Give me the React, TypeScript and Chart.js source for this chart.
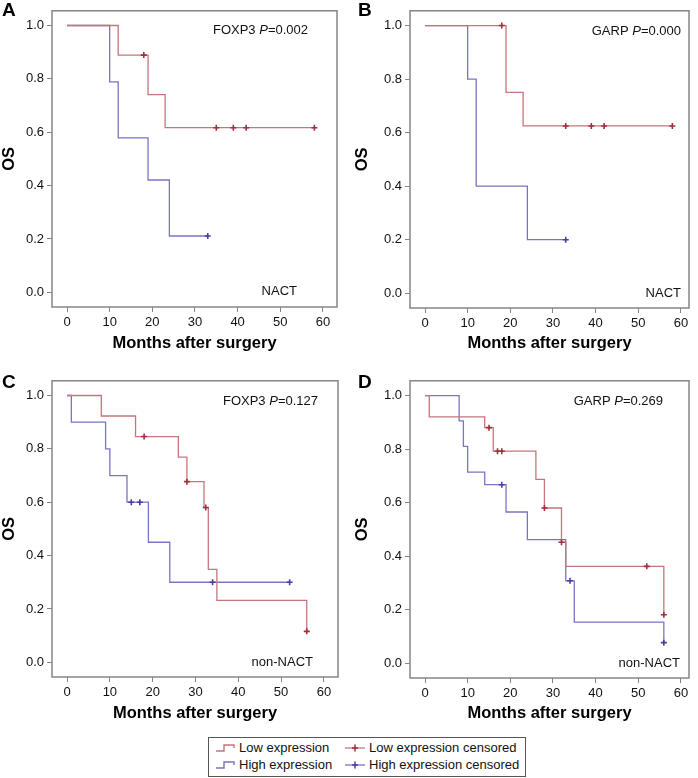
import React, { useEffect, useRef } from "react";
import { Chart, registerables } from "chart.js";

Chart.register(...registerables);

const FONT = "'Liberation Sans', Arial, Helvetica, sans-serif";

// tick labels
const xTicks = [0, 10, 20, 30, 40, 50, 60];
const yTicks = [0, 0.2, 0.4, 0.6, 0.8, 1.0];

// Panel A (NACT, FOXP3)
const aLowT = [0, 12, 19, 23, 58];
const aLowS = [1, 0.889, 0.741, 0.617, 0.617];
const aLowCensT = [18, 35, 39, 42, 58];
const aLowCensS = [0.889, 0.617, 0.617, 0.617, 0.617];
const aHighT = [0, 10, 12, 19, 24, 33];
const aHighS = [1, 0.789, 0.579, 0.421, 0.211, 0.211];
const aHighCensT = [33];
const aHighCensS = [0.211];

// Panel B (NACT, GARP)
const bLowT = [0, 19, 23, 58];
const bLowS = [1, 0.75, 0.625, 0.625];
const bLowCensT = [18, 33, 39, 42, 58];
const bLowCensS = [1, 0.625, 0.625, 0.625, 0.625];
const bHighT = [0, 10, 12, 24, 33];
const bHighS = [1, 0.8, 0.4, 0.2, 0.2];
const bHighCensT = [33];
const bHighCensS = [0.2];

// Panel C (non-NACT, FOXP3)
const cLowT = [0, 8, 16, 26, 28, 32, 33, 35, 56];
const cLowS = [1, 0.923, 0.846, 0.769, 0.677, 0.58, 0.348, 0.232, 0.116];
const cLowCensT = [18, 28, 32.4, 56];
const cLowCensS = [0.846, 0.677, 0.58, 0.116];
const cHighT = [0, 1, 9, 10, 14, 19, 24, 52];
const cHighS = [1, 0.9, 0.8, 0.7, 0.6, 0.45, 0.3, 0.3];
const cHighCensT = [15, 17, 34, 52];
const cHighCensS = [0.6, 0.6, 0.3, 0.3];

// Panel D (non-NACT, GARP)
const dLowT = [0, 1, 14, 16, 26, 28, 32, 33, 56];
const dLowS = [1, 0.92, 0.88, 0.792, 0.687, 0.58, 0.452, 0.362, 0.181];
const dLowCensT = [15, 17, 18, 28, 32, 52, 56];
const dLowCensS = [0.88, 0.792, 0.792, 0.58, 0.452, 0.362, 0.181];
const dHighT = [0, 8, 9, 10, 14, 19, 24, 33, 35, 56];
const dHighS = [1, 0.905, 0.81, 0.714, 0.667, 0.565, 0.462, 0.308, 0.154, 0.077];
const dHighCensT = [18, 34, 56];
const dHighCensS = [0.667, 0.308, 0.077];

const LOW_LINE = "#c4767b";
const HIGH_LINE = "#7a74c6";
const LOW_MARK = "#a52d3e";
const HIGH_MARK = "#4a3ca4";
const FRAME = "#858585";

type Panel = {
  letter: string;
  gene: string;
  pval: string;
  group: string;
  lowT: number[]; lowS: number[]; lowCT: number[]; lowCS: number[];
  highT: number[]; highS: number[]; highCT: number[]; highCS: number[];
  left: number; top: number; w: number; h: number;
  yw: number; xh: number; padR: number; padT: number;
  xMin: number; xMax: number;
  yTitlePad: number;
  geneDx: number; geneDy: number; groupDx: number; groupDy: number;
  letterX: number; letterY: number;
};

const panels: Panel[] = [
  {
    letter: "A", gene: "FOXP3 ", pval: "=0.002", group: "NACT",
    lowT: aLowT, lowS: aLowS, lowCT: aLowCensT, lowCS: aLowCensS,
    highT: aHighT, highS: aHighS, highCT: aHighCensT, highCS: aHighCensS,
    left: 0, top: 0, w: 345, h: 355, yw: 52, xh: 48, padR: 8, padT: 5,
    xMin: -3.52, xMax: 63.3, yTitlePad: 0,
    geneDx: 29, geneDy: 20, groupDx: 40, groupDy: 16, letterX: 2, letterY: 0,
  },
  {
    letter: "B", gene: "GARP ", pval: "=0.000", group: "NACT",
    lowT: bLowT, lowS: bLowS, lowCT: bLowCensT, lowCS: bLowCensS,
    highT: bHighT, highS: bHighS, highCT: bHighCensT, highCS: bHighCensS,
    left: 348, top: 0, w: 350, h: 355, yw: 62, xh: 47, padR: 9, padT: 5,
    xMin: -3.52, xMax: 61.9, yTitlePad: 5,
    geneDx: 8, geneDy: 21, groupDx: 8, groupDy: 15, letterX: 358, letterY: 0,
  },
  {
    letter: "C", gene: "FOXP3 ", pval: "=0.127", group: "non-NACT",
    lowT: cLowT, lowS: cLowS, lowCT: cLowCensT, lowCS: cLowCensS,
    highT: cHighT, highS: cHighS, highCT: cHighCensT, highCS: cHighCensS,
    left: 0, top: 370, w: 345, h: 355, yw: 52, xh: 48, padR: 7, padT: 5,
    xMin: -3.52, xMax: 63.3, yTitlePad: 0,
    geneDx: 20, geneDy: 21, groupDx: 25, groupDy: 15, letterX: 2, letterY: 372,
  },
  {
    letter: "D", gene: "GARP ", pval: "=0.269", group: "non-NACT",
    lowT: dLowT, lowS: dLowS, lowCT: dLowCensT, lowCS: dLowCensS,
    highT: dHighT, highS: dHighS, highCT: dHighCensT, highCS: dHighCensS,
    left: 348, top: 370, w: 350, h: 355, yw: 62, xh: 47, padR: 9, padT: 5,
    xMin: -3.52, xMax: 61.9, yTitlePad: 5,
    geneDx: 26, geneDy: 21, groupDx: 9, groupDy: 15, letterX: 358, letterY: 372,
  },
];

const pts = (t: number[], s: number[]) => t.map((x, i) => ({ x, y: s[i] }));

function KMPanel({ p }: { p: Panel }) {
  const ref = useRef<HTMLCanvasElement | null>(null);
  useEffect(() => {
    if (!ref.current) return;
    const framePlugin = {
      id: "frame",
      afterDraw(chart: any) {
        const { ctx, chartArea } = chart;
        const { left, right, top, bottom } = chartArea;
        ctx.save();
        ctx.strokeStyle = FRAME;
        ctx.lineWidth = 1.5;
        ctx.strokeRect(left, top, right - left, bottom - top);
        // annotations
        ctx.fillStyle = "#111";
        ctx.textBaseline = "middle";
        const reg = `13px ${FONT}`;
        const ita = `italic 13px ${FONT}`;
        ctx.font = reg;
        const w1 = ctx.measureText(p.gene).width;
        const w3 = ctx.measureText(p.pval).width;
        ctx.font = ita;
        const w2 = ctx.measureText("P").width;
        const xEnd = right - p.geneDx;
        const y1 = top + p.geneDy;
        let x = xEnd - (w1 + w2 + w3);
        ctx.textAlign = "left";
        ctx.font = reg;
        ctx.fillText(p.gene, x, y1);
        x += w1;
        ctx.font = ita;
        ctx.fillText("P", x, y1);
        x += w2;
        ctx.font = reg;
        ctx.fillText(p.pval, x, y1);
        ctx.textAlign = "right";
        ctx.fillText(p.group, right - p.groupDx, bottom - p.groupDy);
        ctx.restore();
      },
    };
    const chart = new Chart(ref.current, {
      type: "line",
      data: {
        datasets: [
          {
            data: pts(p.lowCT, p.lowCS), showLine: false, pointStyle: "cross",
            pointRadius: 3, pointBorderColor: LOW_MARK, pointBackgroundColor: LOW_MARK,
            pointBorderWidth: 1.6, borderColor: LOW_MARK,
          },
          {
            data: pts(p.highCT, p.highCS), showLine: false, pointStyle: "cross",
            pointRadius: 3, pointBorderColor: HIGH_MARK, pointBackgroundColor: HIGH_MARK,
            pointBorderWidth: 1.6, borderColor: HIGH_MARK,
          },
          {
            data: pts(p.lowT, p.lowS), stepped: true, borderColor: LOW_LINE,
            borderWidth: 1.3, pointRadius: 0, fill: false,
          },
          {
            data: pts(p.highT, p.highS), stepped: true, borderColor: HIGH_LINE,
            borderWidth: 1.3, pointRadius: 0, fill: false,
          },
        ],
      } as any,
      options: {
        animation: false,
        responsive: false,
        maintainAspectRatio: false,
        layout: { padding: { top: p.padT, right: p.padR, left: 0, bottom: 0 } },
        plugins: { legend: { display: false }, tooltip: { enabled: false } },
        scales: {
          x: {
            type: "linear",
            min: p.xMin,
            max: p.xMax,
            afterBuildTicks: (s: any) => { s.ticks = xTicks.map((v) => ({ value: v })); },
            afterFit: (s: any) => { s.height = p.xh; },
            grid: { display: true, drawOnChartArea: false, drawTicks: true, tickLength: 5, color: FRAME, lineWidth: 1 },
            border: { display: false },
            ticks: {
              padding: 3, autoSkip: false, maxRotation: 0, color: "#111",
              font: { size: 13, family: FONT },
              callback: (v: any) => String(v),
            },
            title: {
              display: true, text: "Months after surgery", color: "#000",
              font: { size: 16.5, weight: "bold", family: FONT },
              padding: { top: 0, bottom: 2 },
            },
          },
          y: {
            type: "linear",
            min: -0.055,
            max: 1.055,
            afterBuildTicks: (s: any) => { s.ticks = yTicks.map((v) => ({ value: v })); },
            afterFit: (s: any) => { s.width = p.yw; },
            grid: { display: true, drawOnChartArea: false, drawTicks: true, tickLength: 5, color: FRAME, lineWidth: 1 },
            border: { display: false },
            ticks: {
              padding: 3, autoSkip: false, color: "#111",
              font: { size: 13, family: FONT },
              callback: (v: any) => Number(v).toFixed(1),
            },
            title: {
              display: true, text: "OS", color: "#000",
              font: { size: 16.5, weight: "bold", family: FONT },
              padding: { top: p.yTitlePad, bottom: 0 },
            },
          },
        },
      } as any,
      plugins: [framePlugin],
    });
    return () => chart.destroy();
  }, [p]);
  return (
    <>
      <canvas
        ref={ref}
        width={p.w}
        height={p.h}
        style={{ position: "absolute", left: p.left, top: p.top, width: p.w, height: p.h }}
      />
      <div
        style={{
          position: "absolute", left: p.letterX, top: p.letterY,
          font: `bold 19px ${FONT}`, color: "#000", lineHeight: "20px",
        }}
      >
        {p.letter}
      </div>
    </>
  );
}

function StepIcon({ color }: { color: string }) {
  return (
    <svg width="20" height="10" style={{ position: "absolute", left: 0, top: 0 }}>
      <path d="M1 8 H9 V2 H19 V5" stroke={color} strokeWidth="1.4" fill="none" />
    </svg>
  );
}

function CrossIcon({ line, mark }: { line: string; mark: string }) {
  return (
    <svg width="22" height="10" style={{ position: "absolute", left: 0, top: 0 }}>
      <path d="M1 5 H21" stroke={line} strokeWidth="1.3" fill="none" />
      <path d="M11 1.5 V8.5 M8 5 H14" stroke={mark} strokeWidth="1.5" fill="none" />
    </svg>
  );
}

const legendRows = [
  { label: "Low expression", cens: "Low expression censored", line: LOW_LINE, mark: LOW_MARK },
  { label: "High expression", cens: "High expression censored", line: HIGH_LINE, mark: HIGH_MARK },
];

function Legend() {
  return (
    <div
      style={{
        position: "absolute", left: 208, top: 737, width: 318, height: 40,
        border: "1px solid #555", boxSizing: "border-box", background: "#fff",
        font: `13px ${FONT}`, color: "#111",
      }}
    >
      {legendRows.map((r, i) => (
        <React.Fragment key={i}>
          <div style={{ position: "absolute", left: 6, top: 5 + i * 17, width: 20, height: 10 }}>
            <StepIcon color={r.line} />
          </div>
          <div style={{ position: "absolute", left: 30, top: 2 + i * 17, lineHeight: "15px", whiteSpace: "nowrap" }}>
            {r.label}
          </div>
          <div style={{ position: "absolute", left: 135, top: 5 + i * 17, width: 22, height: 10 }}>
            <CrossIcon line={r.line} mark={r.mark} />
          </div>
          <div style={{ position: "absolute", left: 160, top: 2 + i * 17, lineHeight: "15px", whiteSpace: "nowrap" }}>
            {r.cens}
          </div>
        </React.Fragment>
      ))}
    </div>
  );
}

export default function App() {
  return (
    <div style={{ position: "fixed", left: 0, top: 0, width: 698, height: 778, background: "#fff", overflow: "hidden" }}>
      {panels.map((p) => (
        <KMPanel key={p.letter} p={p} />
      ))}
      <Legend />
    </div>
  );
}
